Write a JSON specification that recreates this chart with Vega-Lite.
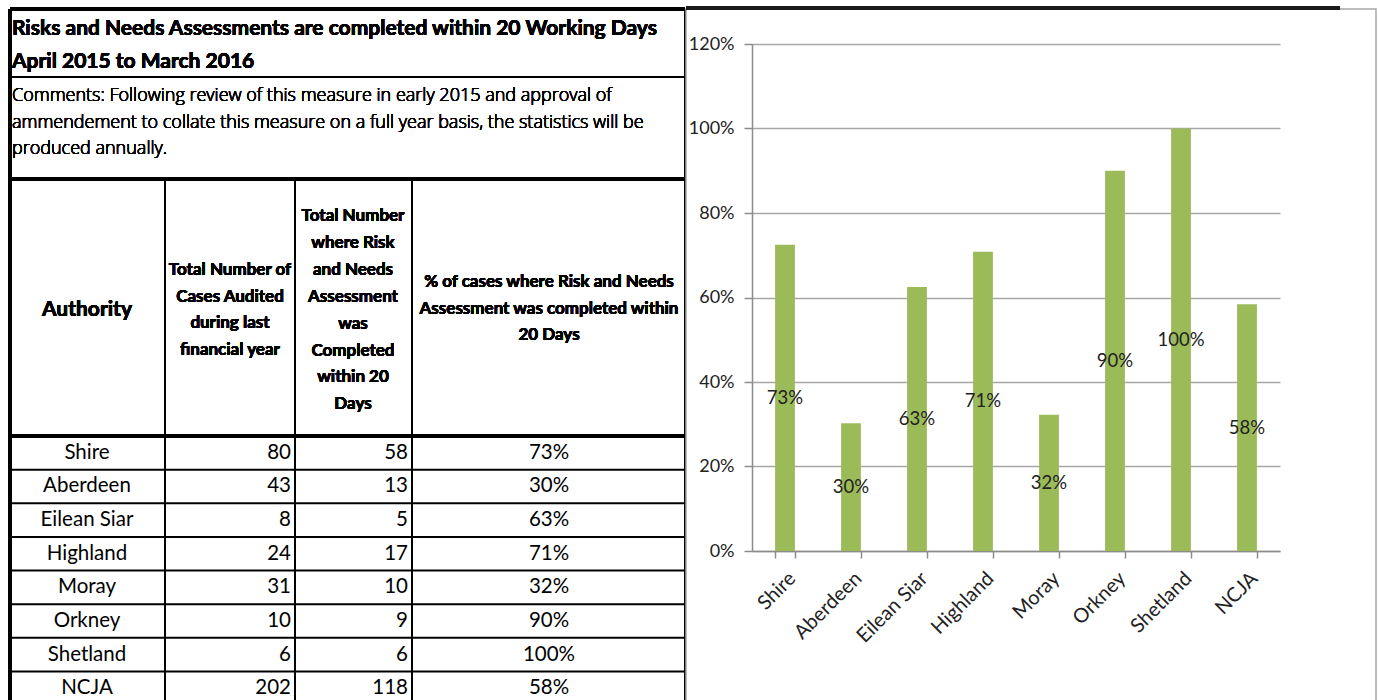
{
  "$schema": "https://vega.github.io/schema/vega-lite/v6.json",
  "padding": {"left": 8, "top": 5, "right": 0, "bottom": 0},
  "config": {"font": "Lato", "text": {"font": "Lato", "color": "#000000"}},
  "datasets": {
    "rows": [
      {"authority": "Shire", "cases": 80, "completed": 58, "pct": 0.725},
      {"authority": "Aberdeen", "cases": 43, "completed": 13, "pct": 0.3023},
      {"authority": "Eilean Siar", "cases": 8, "completed": 5, "pct": 0.625},
      {"authority": "Highland", "cases": 24, "completed": 17, "pct": 0.7083},
      {"authority": "Moray", "cases": 31, "completed": 10, "pct": 0.3226},
      {"authority": "Orkney", "cases": 10, "completed": 9, "pct": 0.9},
      {"authority": "Shetland", "cases": 6, "completed": 6, "pct": 1.0},
      {"authority": "NCJA", "cases": 202, "completed": 118, "pct": 0.5842}
    ]
  },
  "spacing": 1,
  "bounds": "flush",
  "hconcat": [
    {
      "width": 675,
      "height": 692,
      "view": {"stroke": null},
      "data": {"name": "rows"},
      "layer": [
        {
          "mark": {"type": "rule", "color": "black", "strokeWidth": 2},
          "encoding": {
            "y": {"field": "authority", "type": "nominal", "sort": null, "bandPosition": 0, "axis": null, "scale": {"range": [427, 696], "paddingInner": 0, "paddingOuter": 0}},
            "x": {"value": 0},
            "x2": {"value": 675}
          }
        },
        {"mark": {"type": "rule", "color": "black", "strokeWidth": 3}, "encoding": {"x": {"value": 0}, "x2": {"value": 675}, "y": {"value": 0}}},
        {"mark": {"type": "rule", "color": "black", "strokeWidth": 2}, "encoding": {"x": {"value": 0}, "x2": {"value": 675}, "y": {"value": 68}}},
        {"mark": {"type": "rule", "color": "black", "strokeWidth": 3}, "encoding": {"x": {"value": 0}, "x2": {"value": 675}, "y": {"value": 170}}},
        {"mark": {"type": "rule", "color": "black", "strokeWidth": 3}, "encoding": {"x": {"value": 0}, "x2": {"value": 675}, "y": {"value": 427}}},
        {"mark": {"type": "rule", "color": "black", "strokeWidth": 3.5}, "encoding": {"x": {"value": 0}, "y": {"value": 0}, "y2": {"value": 700}}},
        {"mark": {"type": "rule", "color": "black", "strokeWidth": 2}, "encoding": {"x": {"value": 675}, "y": {"value": 0}, "y2": {"value": 700}}},
        {"mark": {"type": "rule", "color": "black", "strokeWidth": 2}, "encoding": {"x": {"value": 155}, "y": {"value": 170}, "y2": {"value": 700}}},
        {"mark": {"type": "rule", "color": "black", "strokeWidth": 2}, "encoding": {"x": {"value": 285}, "y": {"value": 170}, "y2": {"value": 700}}},
        {"mark": {"type": "rule", "color": "black", "strokeWidth": 2}, "encoding": {"x": {"value": 402}, "y": {"value": 170}, "y2": {"value": 700}}},
        {
          "mark": {"type": "text", "align": "left", "baseline": "alphabetic", "fontSize": 21, "fontWeight": "bold", "lineHeight": 33},
          "encoding": {
            "x": {"value": 2},
            "y": {"value": 26},
            "text": {"value": ["Risks and Needs Assessments are completed within 20 Working Days", "April 2015 to March 2016"]}
          }
        },
        {
          "mark": {"type": "text", "align": "left", "baseline": "alphabetic", "fontSize": 18, "font": "Open Sans", "fontWeight": 300, "lineHeight": 26.5},
          "encoding": {
            "x": {"value": 2},
            "y": {"value": 92},
            "text": {"value": ["Comments: Following review of this measure in early 2015 and approval of", "ammendement to collate this measure on a full year basis, the statistics will be", "produced annually."]}
          }
        },
        {
          "mark": {"type": "text", "align": "center", "baseline": "middle", "fontSize": 21, "fontWeight": "bold"},
          "encoding": {"x": {"value": 77}, "y": {"value": 301}, "text": {"value": "Authority"}}
        },
        {
          "mark": {"type": "text", "align": "center", "baseline": "middle", "fontSize": 17, "fontWeight": "bold", "lineHeight": 26.7},
          "encoding": {"x": {"value": 220}, "y": {"value": 261}, "text": {"value": ["Total Number of", "Cases Audited", "during last", "financial year"]}}
        },
        {
          "mark": {"type": "text", "align": "center", "baseline": "middle", "fontSize": 17, "fontWeight": "bold", "lineHeight": 26.9},
          "encoding": {"x": {"value": 343}, "y": {"value": 207}, "text": {"value": ["Total Number", "where Risk", "and Needs", "Assessment", "was", "Completed", "within 20", "Days"]}}
        },
        {
          "mark": {"type": "text", "align": "center", "baseline": "middle", "fontSize": 17, "fontWeight": "bold", "lineHeight": 26.5},
          "encoding": {"x": {"value": 539}, "y": {"value": 273}, "text": {"value": ["% of cases where Risk and Needs", "Assessment was completed within", "20 Days"]}}
        },
        {
          "mark": {"type": "text", "align": "center", "baseline": "middle", "fontSize": 20.5},
          "encoding": {"y": {"field": "authority", "type": "nominal", "sort": null}, "x": {"value": 77}, "text": {"field": "authority"}}
        },
        {
          "mark": {"type": "text", "align": "right", "baseline": "middle", "fontSize": 20.5},
          "encoding": {"y": {"field": "authority", "type": "nominal", "sort": null}, "x": {"value": 281}, "text": {"field": "cases", "type": "quantitative"}}
        },
        {
          "mark": {"type": "text", "align": "right", "baseline": "middle", "fontSize": 20.5},
          "encoding": {"y": {"field": "authority", "type": "nominal", "sort": null}, "x": {"value": 398}, "text": {"field": "completed", "type": "quantitative"}}
        },
        {
          "mark": {"type": "text", "align": "center", "baseline": "middle", "fontSize": 20.5},
          "encoding": {"y": {"field": "authority", "type": "nominal", "sort": null}, "x": {"value": 539}, "text": {"field": "pct", "type": "quantitative", "format": ".0%"}}
        }
      ]
    },
    {
      "width": 690,
      "height": 692,
      "view": {"stroke": "#a6a6a6", "strokeWidth": 1.5},
      "data": {"name": "rows"},
      "layer": [
        {
          "mark": {"type": "rule", "color": "#1a1a1a", "strokeWidth": 3},
          "encoding": {"x": {"value": 0}, "x2": {"value": 654}, "y": {"value": -1}}
        },
        {
          "mark": {"type": "bar", "color": "#9BBB59"},
          "encoding": {
            "x": {
              "field": "authority", "type": "nominal", "sort": null,
              "scale": {"range": [66, 594], "paddingInner": 0.7, "paddingOuter": 0.35},
              "axis": {"title": null, "offset": -150, "labelAngle": -45, "tickBand": "extent", "tickSize": 7, "tickWidth": 1.5, "tickColor": "#8c8c8c", "domainColor": "#8c8c8c", "domainWidth": 1.5, "labelFontSize": 20, "labelFont": "Lato", "labelColor": "#222222", "labelPadding": 10, "grid": false}
            },
            "y": {
              "field": "pct", "type": "quantitative",
              "scale": {"domain": [0, 1.2], "range": [542, 35], "nice": false, "zero": true},
              "axis": {"title": null, "offset": -66, "values": [0, 0.2, 0.4, 0.6, 0.8, 1.0, 1.2], "format": ".0%", "grid": true, "gridColor": "#a6a6a6", "gridWidth": 1.5, "tickSize": 8, "tickWidth": 1.5, "tickColor": "#8c8c8c", "domainColor": "#8c8c8c", "domainWidth": 1.5, "labelFontSize": 18, "labelFont": "Lato", "labelColor": "#222222", "labelPadding": 10}
            }
          }
        },
        {
          "mark": {"type": "text", "align": "center", "baseline": "middle", "fontSize": 18.5, "color": "#222222"},
          "encoding": {
            "x": {"field": "authority", "type": "nominal", "sort": null},
            "y": {"field": "pct", "type": "quantitative", "scale": {"domain": [0, 2.4], "range": [542, 35], "nice": false}, "axis": null},
            "text": {"field": "pct", "type": "quantitative", "format": ".0%"}
          }
        }
      ],
      "resolve": {"scale": {"y": "independent"}}
    }
  ]
}
